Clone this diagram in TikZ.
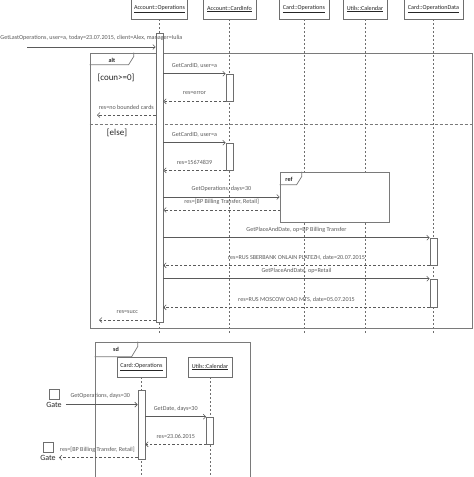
\documentclass[tikz,border=0pt]{standalone}
\usepackage{fontspec}
\setmainfont{Carlito}
\usetikzlibrary{arrows.meta, positioning}
\definecolor{linegray}{HTML}{6E6E6E}
\definecolor{framegray}{HTML}{7A7A7A}
\definecolor{arrowgray}{HTML}{5A5A5A}
\definecolor{textgray}{HTML}{262626}

\begin{document}
\begin{tikzpicture}[
    % GLOBAL CFG
    x=1pt, y=-1pt,
    font=\fontsize{6.1}{7}\selectfont,
    text=textgray,
    >={Straight Barb[length=2.5pt,width=5pt]},
    % Styles
    obj/.style={% Lifeline heads
        rectangle,
        draw=linegray,
        fill=white,
        line width=.6pt,
        minimum height=20pt,
        inner sep=0pt,
        },
    act/.style={% Activation bars
        rectangle,
        draw=linegray,
        fill=white,
        line width=.6pt,
        minimum width=7pt,
        inner sep=0pt,
        },
    life/.style={% Dashed lifelines
        linegray,
        line width=.5pt,
        dash pattern=on 2pt off 2pt,
        },
    frm/.style={% Combined fragments
        rectangle,
        draw=framegray,
        line width=.7pt,
        inner sep=0pt,
        },
    tab/.style={% Corner tab of a fragment
        framegray,
        line width=.7pt,
        },
    tablabel/.style={% Fragment operator
        font=\fontsize{6.1}{7}\selectfont\bfseries,
        inner sep=0pt,
        },
    guard/.style={% Guards and gate names
        font=\fontsize{9}{11}\selectfont,
        inner sep=1pt,
        },
    gatebox/.style={% Gates
        rectangle,
        draw=linegray,
        line width=.6pt,
        minimum size=10pt,
        inner sep=0pt,
        },
    mylabel/.style={% Message text
        midway,
        yshift=8pt,
        inner sep=0pt,
        },
    MsgC1/.style={% Calls
        ->,
        arrowgray,
        line width=.6pt,
        },
    RetC1/.style={% Replies
        ->,
        arrowgray,
        line width=.6pt,
        dash pattern=on 2.5pt off 2pt,
        },
    ]

\useasboundingbox (0,0) rectangle (474,477);

%Upper diagram
    % Draw the lifeline heads
    \node [obj, minimum width=56pt] (ops) at (159.5,9) {\underline{Account::Operations}};
    \node [obj, minimum width=53pt] (ci) at (229.5,9) {\underline{Account::CardInfo}};
    \node [obj, minimum width=50pt] (co) at (304,9) {\underline{Card::Operations}};
    \node [obj, minimum width=44pt] (uc) at (365,9) {\underline{Utils::Calendar}};
    \node [obj, minimum width=59pt] (od) at (433.5,9) {\underline{Card::OperationData}};

    % Draw the lifelines
    \coordinate (topEnd) at (0,333);
    \foreach \n in {ops, ci, co, uc, od}
        \draw [life] (\n.south) -- (\n.south |- topEnd);

    % Draw the alt fragment
    \node [frm, minimum width=382pt, minimum height=275pt] (alt) at (281,190.5) {};
    \draw [tab] (alt.north west) ++(44,0) -- ++(0,4) -- ++(-5,8) -- ++(-39,0);
    \node [tablabel] (altLbl) at (112,60) {alt};
    \coordinate (sep) at (0,124);
    \draw [tab, dash pattern=on 3pt off 2pt] (alt.west |- sep) -- (alt.east |- sep);
    \node [guard] (g1) at (116,78) {[coun>=0]};
    \node [guard] (g2) at (117,133) {[else]};

    % Draw the ref fragment
    \node [frm, fill=white, minimum width=109pt, minimum height=50pt] (ref) at (334.5,197) {};
    \draw [tab] (ref.north west) ++(22,0) -- ++(0,5) -- ++(-5,8) -- ++(-17,0);
    \node [tablabel] (refLbl) at (289,179) {ref};
    \coordinate (refRet) at (280,210);

    % Draw activations
    \node [act, minimum height=289pt] (opsAct) at (159.5,177.5) {};
    \node [act, minimum height=27pt] (ciAct1) at (229.5,87.5) {};
    \node [act, minimum height=27pt] (ciAct2) at (229.5,156.5) {};
    \node [act, minimum height=27pt] (odAct1) at (433.5,251.5) {};
    \node [act, minimum height=28pt] (odAct2) at (433.5,293) {};

    % Messages
    \coordinate (found) at (27,47);
    \draw [MsgC1] (found) -- node[mylabel, yshift=1pt] {GetLastOperations, user=a, today=23.07.2015, client=Alex, manager=Iulia} (found -| opsAct.west);

    % coun>=0
    \draw [MsgC1] (opsAct.east |- ciAct1.north) -- node[mylabel] {GetCardID, user=a} (ciAct1.north west);
    \draw [RetC1] (ciAct1.south west) -- node[mylabel] {res=error} (ciAct1.south west -| opsAct.east);
    \coordinate (noCards) at (97,115);
    \draw [RetC1] (noCards -| opsAct.west) -- node[mylabel] {res=no bounded cards} (noCards);

    % else
    \draw [MsgC1] (opsAct.east |- ciAct2.north) -- node[mylabel] {GetCardID, user=a} (ciAct2.north west);
    \draw [RetC1] (ciAct2.south west) -- node[mylabel] {res=15674839} (ciAct2.south west -| opsAct.east);
    \draw [MsgC1] (opsAct.east |- ref.west) -- node[mylabel] {GetOperations, days=30} (ref.west);
    \draw [RetC1] (refRet) -- node[mylabel] {res=[BP Billing Transfer, Retail]} (refRet -| opsAct.east);
    \draw [MsgC1] (opsAct.east |- odAct1.north) -- node[mylabel] {GetPlaceAndDate, op=BP Billing Transfer} (odAct1.north west);
    \draw [RetC1] (odAct1.south west) -- node[mylabel] {res=RUS SBERBANK ONLAIN PLATEZH, date=20.07.2015} (odAct1.south west -| opsAct.east);
    \draw [MsgC1] (opsAct.east |- odAct2.north) -- node[mylabel] {GetPlaceAndDate, op=Retail} (odAct2.north west);
    \draw [RetC1] (odAct2.south west) -- node[mylabel] {res=RUS MOSCOW OAO MTS, date=05.07.2015} (odAct2.south west -| opsAct.east);
    \coordinate (succ) at (99,320);
    \draw [RetC1] (succ -| opsAct.west) -- node[mylabel] {res=succ} (succ);

%Lower diagram
    % Draw the sd frame
    \node [frm, minimum width=155pt, minimum height=140pt] (sd) at (172.5,412) {};
    \draw [tab] (sd.north west) ++(43,0) -- ++(0,5) -- ++(-6,10) -- ++(-37,0);
    \node [tablabel] (sdLbl) at (116,349) {sd};

    % Lifeline heads and lifelines
    \node [obj, minimum width=49pt] (co2) at (141.5,367) {\underline{Card::Operations}};
    \node [obj, minimum width=44pt] (uc2) at (210,367) {\underline{Utils::Calendar}};
    \coordinate (botEnd) at (0,477);
    \draw [life] (co2.south) -- (co2.south |- botEnd);
    \draw [life] (uc2.south) -- (uc2.south |- botEnd);

    % Activations
    \node [act, minimum height=69pt] (co2Act) at (141.5,424.5) {};
    \node [act, minimum height=27pt] (ucAct) at (210,430.5) {};

    % Gates
    \node [gatebox] (gate1) at (54,394) {};
    \node [guard, font=\fontsize{8}{10}\selectfont, below=1.5pt of gate1] (gate1Lbl) {Gate};
    \node [gatebox] (gate2) at (48,447) {};
    \node [guard, font=\fontsize{8}{10}\selectfont, below=1.5pt of gate2] (gate2Lbl) {Gate};

    % Messages
    \draw [MsgC1, shorten <=3pt] (gate1Lbl.east) -- node[mylabel, yshift=1pt] {GetOperations, days=30} (gate1Lbl.east -| co2Act.west);
    \draw [MsgC1] (co2Act.east |- ucAct.north) -- node[mylabel] {GetDate, days=30} (ucAct.north west);
    \draw [RetC1] (ucAct.south west) -- node[mylabel] {res=23.06.2015} (ucAct.south west -| co2Act.east);
    \draw [RetC1, shorten >=2pt] (co2Act.west |- gate2Lbl.east) -- node[mylabel] {res=[BP Billing Transfer, Retail]} (gate2Lbl.east);

\end{tikzpicture}
\end{document}
